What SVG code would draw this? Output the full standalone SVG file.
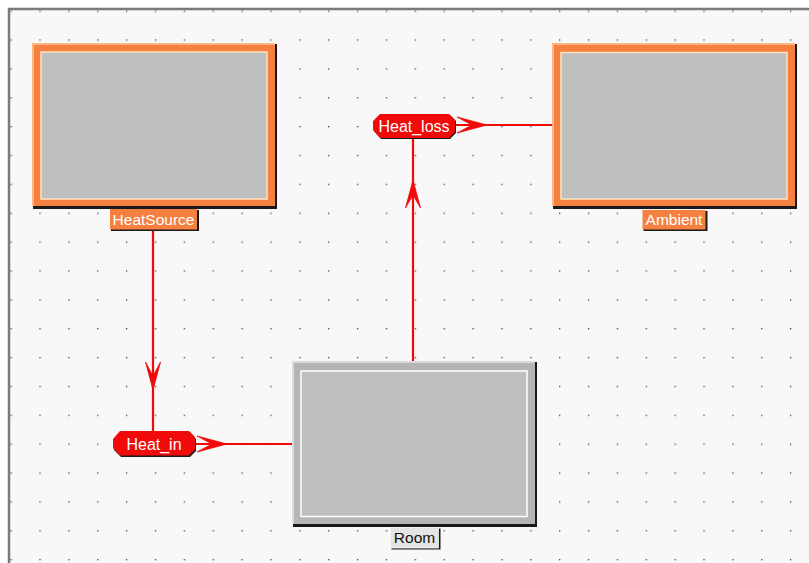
<svg xmlns="http://www.w3.org/2000/svg" width="809" height="563" viewBox="0 0 809 563">
<defs>
<pattern id="grid" patternUnits="userSpaceOnUse" x="10.5" y="10.5" width="28.87" height="28.87">
<rect x="0" y="0" width="1.3" height="1.3" fill="#444"/>
</pattern>
<style>
.shadow{fill:#1a1a1a}
.orange{fill:#F6803F}
.gray{fill:#BEBEBE}
.cream{fill:none;stroke:#FFE3C2;stroke-width:1.5}
.wline{fill:none;stroke:#FFFFFF;stroke-width:1.5}
.hl{fill:none;stroke:#FFC69E;stroke-width:1.5}
.lbl{font-family:"Liberation Sans",Arial,sans-serif;font-size:15.5px;text-anchor:middle}
.tag{font-family:"Liberation Sans",Arial,sans-serif;font-size:16px;text-anchor:middle;fill:#fff}
.conn{stroke:#F00A0A;stroke-width:2.2;fill:none}
.head{fill:#F00A0A;stroke:#F00A0A;stroke-width:0.8;stroke-linejoin:round}
.tagshape{fill:#F00A0A}
</style>
</defs>
<rect x="0" y="0" width="809" height="563" fill="#ffffff"/>
<rect x="8" y="8" width="801" height="555" fill="#F8F8F8"/>
<rect x="8" y="8" width="801" height="555" fill="url(#grid)"/>
<path d="M9 563 V9 H809" fill="none" stroke="#7A7A7A" stroke-width="2.5"/>

<g id="connectors">
<line class="conn" x1="153" y1="230" x2="153" y2="432"/>
<polygon class="head" points="153,390 145.5,362 153,376 160.5,362"/>
<line class="conn" x1="195" y1="444" x2="292" y2="444"/>
<polygon class="head" points="227,444 197,436 212,444 197,452"/>
<line class="conn" x1="413" y1="361" x2="413" y2="138"/>
<polygon class="head" points="413,180 405.5,208 413,195 420.5,208"/>
<line class="conn" x1="455" y1="125" x2="552" y2="125"/>
<polygon class="head" points="487,125 457,117 472,125 457,133"/>
</g>

<g id="HeatSource">
<rect class="shadow" x="33" y="44" width="244" height="165"/>
<rect class="orange" x="32" y="43" width="243" height="163"/>
<path class="hl" d="M33 206 V44 H275"/>
<rect class="gray" x="41" y="52" width="226" height="147"/>
<rect class="cream" x="41" y="52" width="226" height="147"/>
<rect class="shadow" x="111" y="210" width="88" height="21"/>
<rect class="orange" x="110" y="209" width="87" height="20.5"/>
<text class="lbl" x="153.5" y="225" fill="#ffffff">HeatSource</text>
</g>

<g id="Ambient">
<rect class="shadow" x="553" y="44" width="244" height="165"/>
<rect class="orange" x="552" y="43" width="243" height="163"/>
<path class="hl" d="M553 206 V44 H795"/>
<rect class="gray" x="561" y="52.5" width="226" height="146.5"/>
<rect class="cream" x="561" y="52.5" width="226" height="146.5"/>
<rect class="shadow" x="643.5" y="211" width="64" height="20"/>
<rect class="orange" x="642.5" y="210" width="63" height="19.5"/>
<text class="lbl" x="674" y="225" fill="#ffffff">Ambient</text>
</g>

<g id="Room">
<rect class="shadow" x="293" y="362" width="244" height="165"/>
<rect x="292" y="361" width="243" height="163" fill="#B5B5B5"/>
<path d="M293 524 V362 H535" fill="none" stroke="#E6E6E6" stroke-width="1.5"/>
<rect class="gray" x="301" y="371" width="226" height="145.5"/>
<rect class="wline" x="301" y="371" width="226" height="145.5"/>
<rect class="shadow" x="391.5" y="528.5" width="49" height="21"/>
<rect x="390.5" y="527.5" width="48" height="20.5" fill="#E4E4E4" stroke="#F4F4F4" stroke-width="0.8"/>
<text class="lbl" x="414.5" y="543" fill="#111">Room</text>
</g>

<g id="Heat_in">
<polygon class="shadow" points="114,440 121,432 190,432 196,439 196,451 190,457 121,457 114,450"/>
<polygon class="tagshape" points="113,439 120,431 189,431 195,437 195,449.5 189,455.5 120,455.5 113,448"/>
<text class="tag" x="154" y="449.5">Heat_in</text>
</g>

<g id="Heat_loss">
<polygon class="shadow" points="374,122 381,115 450,115 456,121 456,133 450,139 381,139 374,131"/>
<polygon class="tagshape" points="373,121 380,114 449,114 455,120 455,132 449,138 380,138 373,130"/>
<text class="tag" x="414" y="132">Heat_loss</text>
</g>
</svg>
